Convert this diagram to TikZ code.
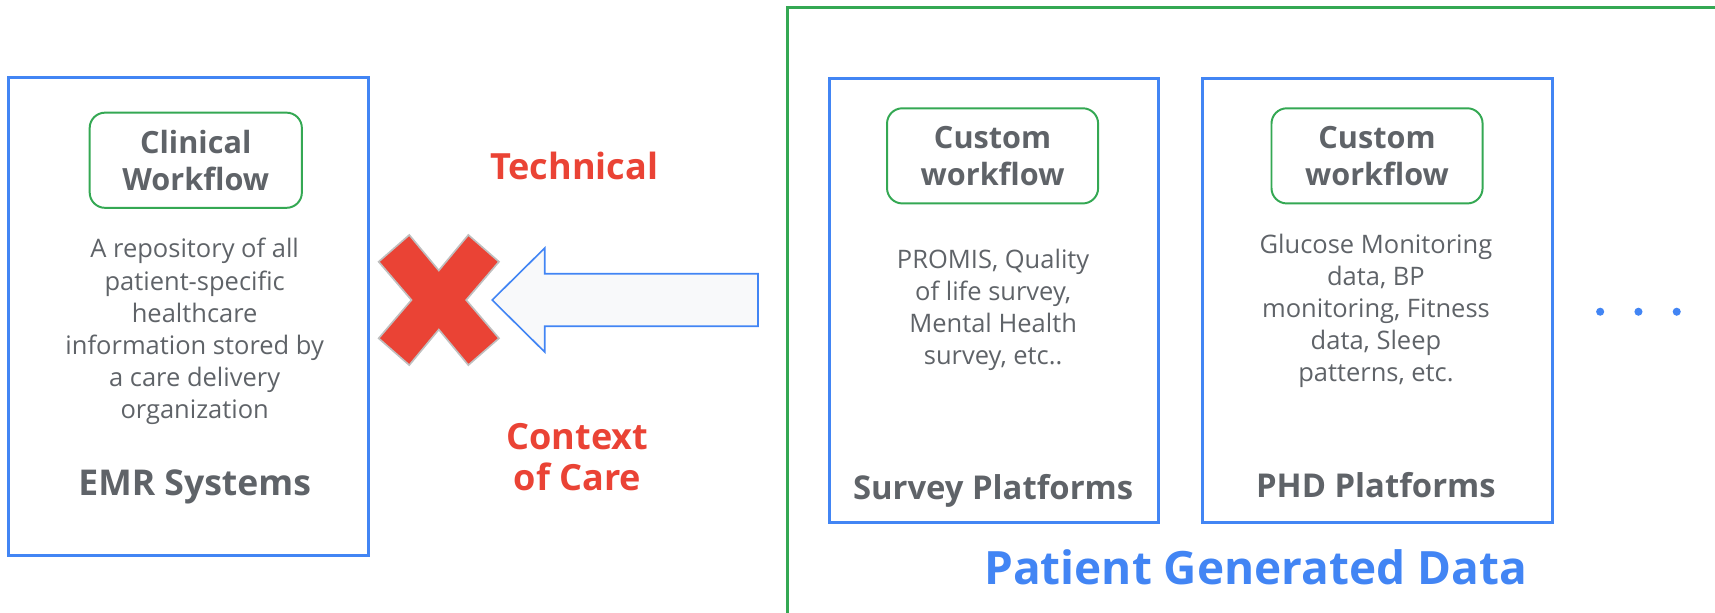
\documentclass[tikz,border=0pt]{standalone}
\usepackage{fontspec}
\setmainfont{Open Sans}
\definecolor{gblue}{HTML}{4285F4}
\definecolor{ggreen}{HTML}{34A853}
\definecolor{gred}{HTML}{EA4335}
\definecolor{ggray}{HTML}{5F6368}
\definecolor{arrowfill}{HTML}{F8F9FA}
\begin{document}
\begin{tikzpicture}[x=1pt,y=-1pt,
    platform/.style={draw=gblue,line width=2.7pt,inner sep=0pt},
    workflow/.style={draw=ggreen,line width=1.8pt,rounded corners=14pt,
      minimum width=193pt,minimum height=87pt,align=center,text=ggray,
      font=\fontsize{28}{34}\selectfont\bfseries},
    desc/.style={align=center,text=ggray,font=\fontsize{23.3}{29.3}\selectfont},
    title/.style={text=ggray,font=\fontsize{30}{36}\selectfont\bfseries},
    warn/.style={align=center,text=gred,font=\fontsize{33}{37}\selectfont\bfseries}]

    \useasboundingbox (0,0) rectangle (1568,560);

    % left side
    \node[platform,minimum width=329pt,minimum height=437pt] (emr) at (172.5,289.5) {};
    \node[workflow,minimum width=194pt] (clinical) at (179,146.5) {Clinical\\Workflow};
    \node[desc] (emrtext) at (178,303) {A repository of all\\patient-specific\\healthcare\\information stored by\\a care delivery\\organization};
    \node[title,font=\fontsize{32.5}{36}\selectfont\bfseries] (emrname) at (178,445) {EMR Systems};

    \node[warn] (technical) at (525,152) {Technical};
    \node[warn] (context) at (528,418) {Context\\of Care};

    % blocked arrow
    \coordinate (cross) at (401.2,274.3);
    \filldraw[fill=gred,draw=black!25,line width=1.5pt,line join=miter,shift={(cross)}]
      (0,-27) -- (27,-59.5) -- (55,-35) -- (25,0) -- (55,35) -- (27,59.5)
      -- (0,27) -- (-27,59.5) -- (-55,35) -- (-25,0) -- (-55,-35) -- (-27,-59.5) -- cycle;
    \coordinate (tip) at (450,274.3);
    \filldraw[fill=arrowfill,draw=gblue,line width=1.5pt,shift={(tip)}]
      (0,0) -- (48,-47.5) -- (48,-24) -- (243,-24) -- (243,24) -- (48,24) -- (48,47.5) -- cycle;

    % patient generated data
    \draw[ggreen,line width=2.7pt] (1570,7) -| (720,562);
    \node[platform,minimum width=301pt,minimum height=406pt] (survey) at (908.5,275) {};
    \node[platform,minimum width=320pt,minimum height=406pt] (phd) at (1259,275) {};
    \node[workflow] (custom1) at (907.5,142.5) {Custom\\workflow};
    \node[workflow] (custom2) at (1259,142.5) {Custom\\workflow};
    \node[desc] (surveytext) at (908,283.5) {PROMIS, Quality\\of life survey,\\Mental Health\\survey, etc..};
    \node[desc] (phdtext) at (1258,284) {Glucose Monitoring\\data, BP\\monitoring, Fitness\\data, Sleep\\patterns, etc.};
    \node[title] (surveyname) at (908,449) {Survey Platforms};
    \node[title] (phdname) at (1258,443.5) {PHD Platforms};
    \foreach \x in {1463,1498,1533}
      \fill[gblue] (\x,285) circle (3.7);
    \node[text=gblue,font=\fontsize{42}{48}\selectfont\bfseries] (pgd) at (1148,519) {Patient Generated Data};
\end{tikzpicture}
\end{document}
